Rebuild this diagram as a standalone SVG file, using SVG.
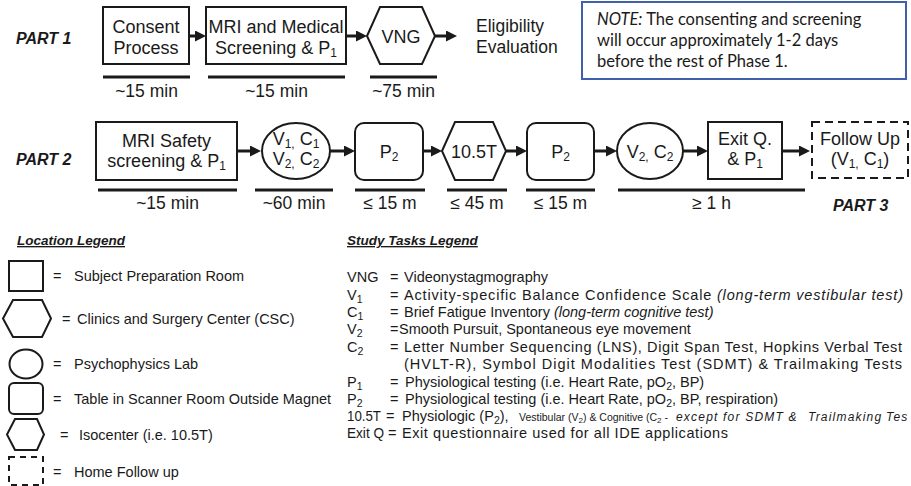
<svg xmlns="http://www.w3.org/2000/svg" width="911" height="486" viewBox="0 0 911 486">
<style>
text{font-family:"Liberation Sans",Arial,sans-serif;fill:#1a1a1a}
.n{font-size:18px;text-anchor:middle}
.t{font-size:17.5px;text-anchor:middle}
.part{font-size:16px;font-weight:bold;font-style:italic}
.box{fill:#fff;stroke:#1a1a1a;stroke-width:2}
.bar{stroke:#1a1a1a;stroke-width:3}
.conn line{stroke:#1a1a1a;stroke-width:3;marker-end:url(#ah)}
.lg{font-size:14.5px}
.lt{font-size:13.5px;font-weight:bold;font-style:italic;text-decoration:underline}
.note{font-family:Lato,"Liberation Sans",sans-serif;font-size:16.5px}
.dash{stroke-dasharray:8 5}
.sm{font-size:10.5px}
.smi{font-size:12px;font-style:italic;letter-spacing:1.2px}
</style>
<defs>
<marker id="ah" markerUnits="userSpaceOnUse" markerWidth="11" markerHeight="11" refX="2" refY="5.5" orient="auto" viewBox="0 0 11 11"><path d="M0,0 L11,5.5 L0,11 z" fill="#1a1a1a"/></marker>
</defs>

<!-- Part labels -->
<text class="part" x="16" y="44">PART 1</text>
<text class="part" x="16" y="165">PART 2</text>
<text class="part" x="833" y="211">PART 3</text>

<!-- PART 1 nodes -->
<g id="consent">
<rect class="box" x="103" y="7" width="86" height="57"/>
<text class="n" x="146" y="32.5">Consent</text>
<text class="n" x="146" y="54">Process</text>
</g>
<g id="mri-medical">
<rect class="box" x="206" y="7" width="140" height="57"/>
<text class="n" x="276" y="32.5">MRI and Medical</text>
<text class="n" x="276" y="54">Screening &amp; P<tspan font-size="12" dy="3">1</tspan></text>
</g>
<g id="vng">
<polygon class="box" points="367,36 380,7 422,7 435,36 422,64 380,64"/>
<text class="n" x="401" y="42.5">VNG</text>
</g>
<g id="eligibility">
<text x="476" y="32" font-size="17.5">Eligibility</text>
<text x="476" y="53" font-size="17.5">Evaluation</text>
</g>
<g id="note">
<rect x="582" y="2" width="324" height="77" fill="#fff" stroke="#4060ac" stroke-width="2"/>
<text class="note" x="597" y="25"><tspan font-style="italic">NOTE:</tspan> The consenting and screening</text>
<text class="note" x="597" y="46">will occur approximately 1-2 days</text>
<text class="note" x="597" y="67">before the rest of Phase 1.</text>
</g>

<!-- PART 1 durations -->
<g id="durations1">
<line class="bar" x1="103" y1="77" x2="190" y2="77"/>
<line class="bar" x1="208" y1="77" x2="345" y2="77"/>
<line class="bar" x1="370" y1="77" x2="437" y2="77"/>
<text class="t" x="146.5" y="97">~15 min</text>
<text class="t" x="276.5" y="97">~15 min</text>
<text class="t" x="403.5" y="97">~75 min</text>
</g>

<!-- PART 2 nodes -->
<g id="mri-safety">
<rect class="box" x="96" y="122" width="141" height="58"/>
<text class="n" x="166.5" y="147">MRI Safety</text>
<text class="n" x="166.5" y="167">screening &amp; P<tspan font-size="12" dy="3">1</tspan></text>
</g>
<g id="v1c1v2c2">
<ellipse class="box" cx="296" cy="151" rx="34" ry="28"/>
<text class="n" x="296" y="145">V<tspan font-size="12" dy="3">1,</tspan><tspan dy="-3"> C</tspan><tspan font-size="12" dy="3">1</tspan></text>
<text class="n" x="296" y="165">V<tspan font-size="12" dy="3">2,</tspan><tspan dy="-3"> C</tspan><tspan font-size="12" dy="3">2</tspan></text>
</g>
<g id="p2a">
<rect class="box" x="355" y="123" width="68" height="57" rx="9"/>
<text class="n" x="389" y="158">P<tspan font-size="12" dy="3">2</tspan></text>
</g>
<g id="t105">
<polygon class="box" points="442,151 455,122 493,122 506,151 493,180 455,180"/>
<text class="n" x="474" y="158">10.5T</text>
</g>
<g id="p2b">
<rect class="box" x="527" y="123" width="67" height="57" rx="9"/>
<text class="n" x="560.5" y="158">P<tspan font-size="12" dy="3">2</tspan></text>
</g>
<g id="v2c2">
<ellipse class="box" cx="650" cy="151" rx="33" ry="28"/>
<text class="n" x="650" y="158">V<tspan font-size="12" dy="3">2,</tspan><tspan dy="-3"> C</tspan><tspan font-size="12" dy="3">2</tspan></text>
</g>
<g id="exitq">
<rect class="box" x="708" y="122" width="74" height="57"/>
<text class="n" x="745" y="145">Exit Q.</text>
<text class="n" x="745" y="165">&amp; P<tspan font-size="12" dy="3">1</tspan></text>
</g>
<g id="followup">
<rect class="box dash" x="812" y="122" width="96" height="56"/>
<text class="n" x="860" y="145">Follow Up</text>
<text class="n" x="860" y="165">(V<tspan font-size="12" dy="3">1,</tspan><tspan dy="-3"> C</tspan><tspan font-size="12" dy="3">1</tspan><tspan dy="-3">)</tspan></text>
</g>

<!-- PART 2 durations -->
<g id="durations2">
<line class="bar" x1="98" y1="190" x2="237" y2="190"/>
<line class="bar" x1="255" y1="190" x2="333" y2="190"/>
<line class="bar" x1="355" y1="190" x2="425" y2="190"/>
<line class="bar" x1="447" y1="190" x2="507" y2="190"/>
<line class="bar" x1="526" y1="190" x2="595" y2="190"/>
<line class="bar" x1="618" y1="190" x2="805" y2="190"/>
<text class="t" x="167.5" y="209">~15 min</text>
<text class="t" x="294" y="209">~60 min</text>
<text class="t" x="390" y="209">≤ 15 m</text>
<text class="t" x="477" y="209">≤ 45 m</text>
<text class="t" x="560.5" y="209">≤ 15 m</text>
<text class="t" x="711.5" y="209">≥ 1 h</text>
</g>

<!-- Connectors -->
<g id="connectors" class="conn">
<line x1="189" y1="36" x2="197" y2="36"/>
<line x1="346" y1="36" x2="358" y2="36"/>
<line x1="435" y1="36" x2="448" y2="36"/>
<line x1="237" y1="151" x2="252" y2="151"/>
<line x1="330" y1="151" x2="346" y2="151"/>
<line x1="423" y1="151" x2="433" y2="151"/>
<line x1="506" y1="151" x2="518" y2="151"/>
<line x1="594" y1="151" x2="608" y2="151"/>
<line x1="683" y1="151" x2="699" y2="151"/>
<line x1="782" y1="151" x2="801" y2="151"/>
</g>

<!-- Location legend -->
<g id="location-legend">
<text class="lt" x="17" y="245">Location Legend</text>
<rect class="box" x="9" y="261" width="34" height="30"/>
<text class="lg" x="53" y="281">=</text><text class="lg" x="74" y="281">Subject Preparation Room</text>
<polygon class="box" points="3,318.5 13,300 42,300 51,318.5 42,337 13,337"/>
<text class="lg" x="62" y="323.5">=</text><text class="lg" x="77" y="323.5">Clinics and Surgery Center (CSC)</text>
<ellipse class="box" cx="26" cy="364" rx="16.5" ry="14.5"/>
<text class="lg" x="53" y="369">=</text><text class="lg" x="74" y="369">Psychophysics Lab</text>
<rect class="box" x="9" y="383" width="34" height="31" rx="5"/>
<text class="lg" x="53" y="403.5">=</text><text class="lg" x="74" y="403.5">Table in Scanner Room Outside Magnet</text>
<polygon class="box" points="7,434.5 15,419 37,419 44,434.5 37,450 15,450"/>
<text class="lg" x="60" y="439.5">=</text><text class="lg" x="79" y="439.5">Isocenter (i.e. 10.5T)</text>
<rect class="box" x="9" y="457" width="34" height="28" stroke-dasharray="6 5"/>
<text class="lg" x="53" y="477">=</text><text class="lg" x="74" y="477">Home Follow up</text>
</g>

<!-- Study tasks legend -->
<g id="tasks-legend">
<text class="lt" x="347" y="245">Study Tasks Legend</text>
<text class="lg" x="347" y="282">VNG</text><text class="lg" x="390" y="282">=</text><text class="lg" x="404" y="282">Videonystagmography</text>
<text class="lg" x="347" y="300">V<tspan font-size="10.5" dy="3">1</tspan></text><text class="lg" x="390" y="300">=</text><text class="lg" x="404" y="300" textLength="499">Activity-specific Balance Confidence Scale <tspan font-style="italic">(long-term vestibular test)</tspan></text>
<text class="lg" x="347" y="317">C<tspan font-size="10.5" dy="3">1</tspan></text><text class="lg" x="390" y="317">=</text><text class="lg" x="404" y="317">Brief Fatigue Inventory <tspan font-style="italic">(long-term cognitive test)</tspan></text>
<text class="lg" x="347" y="334">V<tspan font-size="10.5" dy="3">2</tspan></text><text class="lg" x="390" y="334">=</text><text class="lg" x="399" y="334">Smooth Pursuit, Spontaneous eye movement</text>
<text class="lg" x="347" y="352">C<tspan font-size="10.5" dy="3">2</tspan></text><text class="lg" x="390" y="352">=</text><text class="lg" x="404" y="352" textLength="498">Letter Number Sequencing (LNS), Digit Span Test, Hopkins Verbal Test</text>
<text class="lg" x="404" y="369" textLength="498">(HVLT-R), Symbol Digit Modalities Test (SDMT) &amp;  Trailmaking Tests</text>
<text class="lg" x="347" y="387">P<tspan font-size="10.5" dy="3">1</tspan></text><text class="lg" x="390" y="387">=</text><text class="lg" x="405" y="387">Physiological testing (i.e. Heart Rate, pO<tspan font-size="10.5" dy="3">2</tspan><tspan dy="-3">, BP)</tspan></text>
<text class="lg" x="347" y="404">P<tspan font-size="10.5" dy="3">2</tspan></text><text class="lg" x="390" y="404">=</text><text class="lg" x="405" y="404">Physiological testing (i.e. Heart Rate, pO<tspan font-size="10.5" dy="3">2</tspan><tspan dy="-3">, BP, respiration)</tspan></text>
<text class="lg" x="347" y="421" textLength="34" lengthAdjust="spacingAndGlyphs">10.5T</text><text class="lg" x="386" y="421">=</text><text class="lg" x="402" y="421">Physiologic (P<tspan font-size="10.5" dy="3">2</tspan><tspan dy="-3">),</tspan></text>
<text class="sm" x="519" y="421">Vestibular (V<tspan font-size="8" dy="2">2</tspan><tspan dy="-2">) &amp; Cognitive (C</tspan><tspan font-size="8" dy="2">2</tspan><tspan dy="-2"> -</tspan></text>
<text class="smi" x="676" y="421">except for SDMT &amp;</text>
<text class="smi" x="808" y="421">Trailmaking</text>
<text class="smi" x="886" y="421">Tes</text>
<text class="lg" x="347" y="438" textLength="37" lengthAdjust="spacingAndGlyphs">Exit Q</text><text class="lg" x="388" y="438">=</text><text class="lg" x="402" y="438" textLength="326">Exit questionnaire used for all IDE applications</text>
</g>
</svg>
